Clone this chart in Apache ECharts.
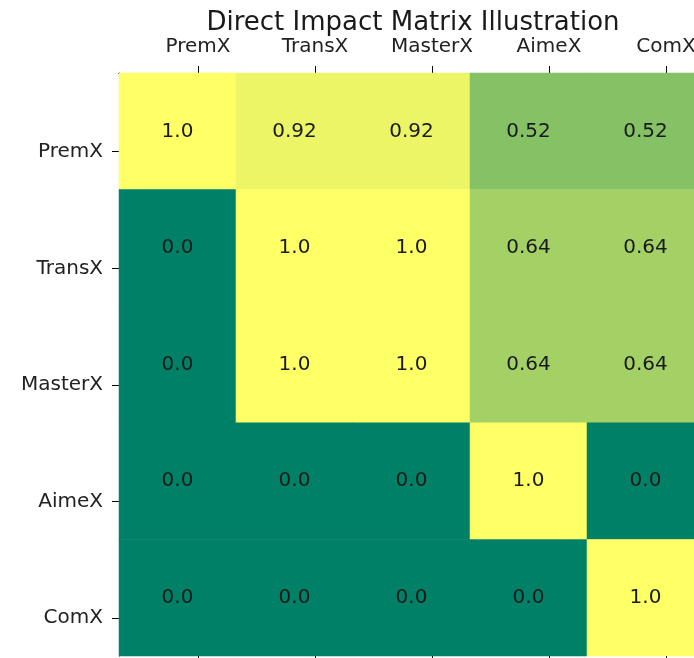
<!DOCTYPE html>
<html>
<head>
<meta charset="utf-8">
<script src="https://cdn.jsdelivr.net/npm/echarts@6/dist/echarts.min.js"></script>
<style>
  html, body { margin: 0; padding: 0; background: #fff; }
  #chart { width: 694px; height: 658px; }
</style>
</head>
<body>
<div id="chart"></div>
<script>
// Products shown on both axes (rows = source, columns = target)
const products = ['PremX', 'TransX', 'MasterX', 'AimeX', 'ComX'];

// Direct impact values, one array per row
const rowPremX   = [1.0, 0.92, 0.92, 0.52, 0.52];
const rowTransX  = [0.0, 1.0, 1.0, 0.64, 0.64];
const rowMasterX = [0.0, 1.0, 1.0, 0.64, 0.64];
const rowAimeX   = [0.0, 0.0, 0.0, 1.0, 0.0];
const rowComX    = [0.0, 0.0, 0.0, 0.0, 1.0];
const matrixRows = [rowPremX, rowTransX, rowMasterX, rowAimeX, rowComX];

// Tick marks sit a little past each cell centre
const tickOffset = 0.675;
const tickPositions = products.map((_, i) => i + tickOffset);

const cells = [];
matrixRows.forEach((row, r) => {
  row.forEach((v, c) => cells.push([c, r, v]));
});

const fmtValue = v => (v % 1 === 0 ? v.toFixed(1) : String(v));
const fontFam = '"DejaVu Sans", sans-serif';

const chart = echarts.init(document.getElementById('chart'), null, { renderer: 'canvas' });
chart.setOption({
  animation: false,
  backgroundColor: '#ffffff',
  title: {
    text: 'Direct Impact Matrix Illustration',
    left: 408,
    top: 5,
    textAlign: 'center',
    textStyle: { fontFamily: fontFam, fontSize: 26, fontWeight: 'normal', color: '#1a1a1a' }
  },
  // the plot runs a little past the right edge of the canvas
  grid: { left: 119, top: 73, width: 585, height: 583, containLabel: false, outerBoundsMode: 'none' },
  visualMap: {
    show: false,
    min: 0,
    max: 1,
    dimension: 2,
    seriesIndex: 0,
    inRange: { color: ['#008066', '#ffff66'] }
  },
  xAxis: [
    {
      type: 'category', data: products, position: 'bottom',
      axisLine: { show: true, lineStyle: { color: '#000', width: 1 } },
      axisTick: { show: false }, axisLabel: { show: false }, splitLine: { show: false }
    },
    {
      type: 'value', position: 'top', min: 0, max: 5,
      axisLine: { show: true, onZero: false, lineStyle: { color: '#000', width: 1 } },
      axisTick: { show: true, length: 7, customValues: tickPositions, lineStyle: { color: '#000' } },
      axisLabel: {
        show: true, customValues: tickPositions, margin: 16,
        fontFamily: fontFam, fontSize: 20, color: '#222',
        formatter: v => products[Math.round(v - tickOffset)]
      },
      splitLine: { show: false }
    },
    {
      type: 'value', position: 'bottom', min: 0, max: 5,
      axisLine: { show: false, onZero: false },
      axisTick: { show: true, length: 7, customValues: tickPositions, lineStyle: { color: '#000' } },
      axisLabel: { show: false },
      splitLine: { show: false }
    }
  ],
  yAxis: [
    {
      type: 'category', data: products, inverse: true, position: 'left',
      axisLine: { show: true, lineStyle: { color: '#000', width: 1 } },
      axisTick: { show: false }, axisLabel: { show: false }, splitLine: { show: false }
    },
    {
      type: 'value', position: 'left', inverse: true, min: 0, max: 5,
      axisLine: { show: false, onZero: false },
      axisTick: { show: true, length: 7, customValues: tickPositions, lineStyle: { color: '#000' } },
      axisLabel: {
        show: true, customValues: tickPositions, margin: 16,
        fontFamily: fontFam, fontSize: 20, color: '#222',
        formatter: v => products[Math.round(v - tickOffset)]
      },
      splitLine: { show: false }
    }
  ],
  series: [{
    type: 'heatmap',
    xAxisIndex: 0,
    yAxisIndex: 0,
    data: cells,
    label: {
      show: true,
      fontFamily: fontFam,
      fontSize: 20,
      color: '#1a1a1a',
      formatter: p => fmtValue(p.value[2])
    },
    itemStyle: { borderWidth: 0 },
    emphasis: { disabled: true }
  }]
});
</script>
</body>
</html>
